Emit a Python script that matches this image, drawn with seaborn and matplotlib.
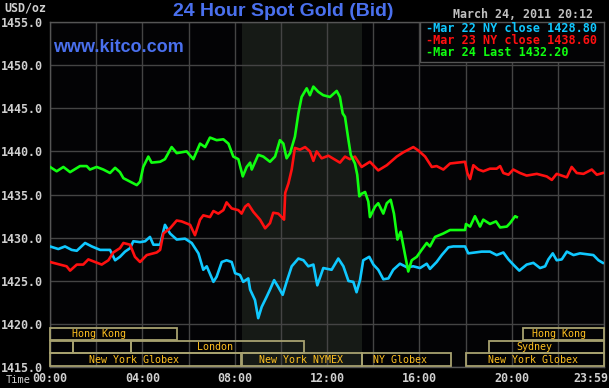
import matplotlib
matplotlib.use("Agg")
import matplotlib.pyplot as plt
from matplotlib.patches import Rectangle
import seaborn as sns
import pandas as pd

# ---------------- data (hours since 00:00, USD/oz) ----------------
blue_h = [0.00, 0.36, 0.65, 0.94, 1.16, 1.52, 1.81, 2.17, 2.60, 2.82, 3.03, 3.25, 3.47, 3.61, 3.90,
          4.12, 4.33, 4.48, 4.77, 4.98, 5.20, 5.49, 5.85, 6.14, 6.43, 6.64, 6.79, 7.08, 7.22, 7.44,
          7.65, 7.87, 8.02, 8.23, 8.37, 8.59, 8.67, 8.88, 9.02, 9.17, 9.39, 9.53, 9.71, 9.89, 10.08,
          10.25, 10.47, 10.76, 10.98, 11.19, 11.41, 11.58, 11.84, 12.20, 12.49, 12.71, 12.93, 13.14,
          13.28, 13.43, 13.57, 13.83, 14.01, 14.22, 14.44, 14.66, 14.87, 15.16, 15.45, 15.74, 16.03,
          16.32, 16.46, 16.75, 16.97, 17.26, 17.47, 17.98, 18.12, 18.41, 18.70, 19.06, 19.35, 19.64,
          19.86, 20.07, 20.33, 20.65, 20.94, 21.23, 21.45, 21.59, 21.78, 21.95, 22.17, 22.39, 22.68,
          22.96, 23.25, 23.54, 23.76, 23.95]
blue_v = [1429.0, 1428.7, 1429.0, 1428.6, 1428.5, 1429.4, 1429.0, 1428.6, 1428.6, 1427.4, 1427.8,
          1428.4, 1428.8, 1429.6, 1429.5, 1429.6, 1430.1, 1429.2, 1429.2, 1431.5, 1430.5, 1429.8,
          1429.9, 1429.4, 1428.2, 1426.3, 1426.7, 1424.9, 1425.5, 1427.2, 1427.4, 1427.2, 1425.9,
          1425.7, 1424.9, 1425.3, 1424.0, 1422.8, 1420.7, 1422.0, 1423.2, 1424.0, 1425.1, 1424.3,
          1423.4, 1424.9, 1426.7, 1427.6, 1427.4, 1426.7, 1426.9, 1424.5, 1426.5, 1426.3, 1427.6,
          1426.7, 1425.0, 1424.9, 1423.7, 1425.1, 1427.4, 1427.8, 1426.9, 1426.3, 1425.2, 1425.3,
          1426.3, 1427.0, 1426.6, 1426.7, 1426.5, 1427.0, 1426.4, 1427.2, 1428.0, 1428.9, 1429.0,
          1429.0, 1428.2, 1428.3, 1428.4, 1428.4, 1428.0, 1428.3, 1427.5, 1426.9, 1426.2, 1426.9,
          1427.1, 1426.5, 1426.7, 1427.5, 1428.2, 1427.4, 1427.5, 1428.4, 1428.0, 1428.2, 1428.1,
          1428.0, 1427.4, 1427.1]

red_h = [0.00, 0.43, 0.72, 0.87, 1.16, 1.44, 1.66, 1.95, 2.24, 2.53, 2.74, 3.03, 3.18, 3.47, 3.68,
         3.90, 4.19, 4.62, 4.77, 4.91, 5.20, 5.49, 5.70, 6.07, 6.28, 6.50, 6.64, 6.93, 7.08, 7.29,
         7.51, 7.65, 7.87, 8.16, 8.30, 8.45, 8.59, 8.81, 9.10, 9.32, 9.53, 9.67, 9.89, 10.04, 10.14,
         10.19, 10.33, 10.47, 10.61, 10.83, 11.05, 11.26, 11.41, 11.55, 11.77, 12.06, 12.56, 12.78,
         12.99, 13.21, 13.50, 13.86, 14.22, 14.59, 15.02, 15.31, 15.74, 15.96, 16.25, 16.54, 16.75,
         17.04, 17.33, 17.98, 18.08, 18.20, 18.34, 18.56, 18.77, 19.06, 19.35, 19.50, 19.64, 19.86,
         20.07, 20.36, 20.65, 21.09, 21.52, 21.74, 21.95, 22.17, 22.39, 22.60, 22.82, 23.11, 23.47,
         23.69, 23.95]
red_v = [1427.2, 1426.9, 1426.7, 1426.2, 1426.9, 1426.9, 1427.5, 1427.2, 1426.9, 1427.4, 1428.3,
         1428.8, 1429.4, 1429.2, 1427.8, 1427.2, 1428.0, 1428.3, 1428.6, 1430.5, 1431.1, 1432.0,
         1431.9, 1431.5, 1430.3, 1432.1, 1432.6, 1432.4, 1433.1, 1432.8, 1433.2, 1434.1, 1433.4,
         1433.2, 1432.8, 1433.6, 1433.9, 1433.0, 1432.1, 1431.1, 1431.7, 1432.9, 1432.8, 1432.4,
         1432.1, 1435.2, 1436.3, 1437.9, 1440.4, 1440.2, 1440.5, 1440.0, 1438.9, 1440.0, 1439.2,
         1439.5, 1438.7, 1439.4, 1439.1, 1439.4, 1438.2, 1438.8, 1437.8, 1438.4, 1439.4, 1439.9,
         1440.5, 1440.1, 1439.4, 1438.2, 1438.3, 1437.9, 1438.6, 1438.8, 1437.5, 1436.8, 1438.4,
         1437.9, 1437.7, 1438.0, 1438.0, 1438.3, 1437.5, 1437.3, 1437.9, 1437.5, 1437.2, 1437.4,
         1437.1, 1436.7, 1437.4, 1437.2, 1437.0, 1438.2, 1437.5, 1437.4, 1437.9, 1437.3, 1437.5]

green_h = [0.00, 0.29, 0.58, 0.87, 1.30, 1.59, 1.73, 2.02, 2.31, 2.60, 2.82, 3.03, 3.18, 3.47, 3.76,
           3.90, 4.04, 4.26, 4.40, 4.77, 4.98, 5.27, 5.49, 5.92, 6.21, 6.50, 6.72, 6.93, 7.22, 7.51,
           7.73, 7.94, 8.16, 8.35, 8.52, 8.67, 8.74, 9.02, 9.24, 9.53, 9.75, 9.96, 10.11, 10.25,
           10.40, 10.61, 10.76, 10.90, 11.12, 11.26, 11.41, 11.62, 11.84, 12.13, 12.42, 12.56, 12.68,
           12.78, 12.93, 13.03, 13.21, 13.31, 13.40, 13.50, 13.65, 13.79, 13.86, 14.08, 14.22, 14.44,
           14.59, 14.76, 14.90, 15.05, 15.19, 15.34, 15.52, 15.67, 15.89, 16.10, 16.32, 16.46, 16.68,
           17.04, 17.33, 17.98, 18.02, 18.20, 18.41, 18.63, 18.77, 19.06, 19.32, 19.50, 19.79, 19.93,
           20.15, 20.22]
green_v = [1438.2, 1437.7, 1438.2, 1437.6, 1438.3, 1438.3, 1437.9, 1438.2, 1437.9, 1437.5, 1438.1,
           1437.6, 1436.9, 1436.5, 1436.1, 1436.5, 1438.2, 1439.4, 1438.7, 1438.8, 1439.1, 1440.5,
           1439.8, 1440.0, 1439.1, 1440.9, 1440.5, 1441.6, 1441.3, 1441.4, 1440.9, 1439.4, 1439.1,
           1437.1, 1438.2, 1438.7, 1437.9, 1439.6, 1439.4, 1438.8, 1439.4, 1441.3, 1440.9, 1439.2,
           1439.8, 1441.7, 1444.4, 1446.3, 1447.3, 1446.5, 1447.5, 1446.9, 1446.5, 1446.3, 1447.0,
           1446.3, 1444.4, 1444.0, 1441.3, 1439.6, 1438.6, 1437.3, 1434.8, 1435.1, 1435.3, 1434.2,
           1432.4, 1433.6, 1434.0, 1432.8, 1434.0, 1434.4, 1432.8, 1429.8, 1430.7, 1428.6, 1426.1,
           1427.4, 1427.8, 1428.6, 1429.4, 1429.0, 1430.1, 1430.5, 1430.9, 1430.9, 1431.6, 1431.3,
           1432.5, 1431.3, 1432.1, 1431.6, 1431.9, 1431.2, 1431.3, 1431.7, 1432.5, 1432.4]

series_names = ["Mar 22 NY close 1428.80", "Mar 23 NY close 1438.60", "Mar 24 Last 1432.20"]
series_colors = ["#10c8ff", "#ff1010", "#10ff10"]

y_ticks = [1415, 1420, 1425, 1430, 1435, 1440, 1445, 1450, 1455]
x_tick_hours = [0, 4, 8, 12, 16, 20]
x_tick_labels = ["00:00", "04:00", "08:00", "12:00", "16:00", "20:00"]

nymex_span = (8.33, 13.5)

# session bands: (row, start_h, end_h)
band_boxes = [(0, 0.0, 5.5), (0, 20.5, 24.0),
              (1, 0.0, 1.0), (1, 1.0, 3.5), (1, 3.5, 11.0), (1, 19.0, 24.0),
              (2, 0.0, 8.27), (2, 8.33, 13.5), (2, 13.5, 17.37), (2, 18.0, 24.0)]
band_labels = [(0, 2.14, "Hong Kong"), (0, 22.03, "Hong Kong"),
               (1, 7.15, "London"), (1, 20.97, "Sydney"),
               (2, 3.64, "New York Globex"), (2, 10.87, "New York NYMEX"),
               (2, 15.16, "NY Globex"), (2, 20.92, "New York Globex")]

# ---------------- figure ----------------
W, H = 609, 388
fig = plt.figure(figsize=(W / 100, H / 100), dpi=100, facecolor="#000000")
ax_l, ax_r, ax_t, ax_b = 50, 604, 21.8, 367.4
ax = fig.add_axes([ax_l / W, 1 - ax_b / H, (ax_r - ax_l) / W, (ax_b - ax_t) / H])
ax.set_facecolor("#030305")

frames = []
for name, hs, vs in zip(series_names, [blue_h, red_h, green_h], [blue_v, red_v, green_v]):
    frames.append(pd.DataFrame({"hour": hs, "price": vs, "series": name}))
df = pd.concat(frames, ignore_index=True)

ax.axvspan(nymex_span[0], nymex_span[1], color="#161a16", zorder=0, lw=0)

sns.lineplot(data=df, x="hour", y="price", hue="series", hue_order=series_names,
             palette=series_colors, linewidth=1.9, legend=False, ax=ax, zorder=3,
             estimator=None, sort=True)

ax.set_xlim(0, 24)
ax.set_ylim(1415, 1455)
ax.set_xticks(list(range(0, 25, 2)))
ax.set_xticklabels([""] * 13)
ax.set_yticks(y_ticks)
ax.set_yticklabels([f"{v:.1f}" for v in y_ticks])
ax.grid(True, color="#444444", linewidth=1.0, zorder=1)
ax.set_axisbelow(True)
ax.tick_params(length=0, colors="#d0d0d0", pad=5)
mono = "DejaVu Sans Mono"
for lab in ax.get_yticklabels():
    lab.set_family(mono); lab.set_fontsize(8.4); lab.set_weight("bold"); lab.set_color("#d0d0d0")
for s in ax.spines.values():
    s.set_color("#555555"); s.set_linewidth(1.0)
ax.set_xlabel(""); ax.set_ylabel("")

# x tick labels as text (last one right aligned at figure edge)
xt = ax.get_xaxis_transform()
for h, lab in zip(x_tick_hours, x_tick_labels):
    ax.text(h, -0.031, lab, transform=xt, ha="center", va="center", family=mono,
            fontsize=8.4, weight="bold", color="#d0d0d0", clip_on=False)
fig.text(608 / W, 1 - 378 / H, "23:59", ha="right", va="center", family=mono,
         fontsize=8.4, weight="bold", color="#d0d0d0")
fig.text(6 / W, 1 - 380 / H, "Time", ha="left", va="center", family=mono,
         fontsize=7.5, color="#d0d0d0")
fig.text(4 / W, 1 - 8 / H, "USD/oz", ha="left", va="center", family=mono,
         fontsize=8.4, weight="bold", color="#d0d0d0")

# titles
fig.text(283 / W, 1 - 11 / H, "24 Hour Spot Gold (Bid)", ha="center", va="center",
         family="Liberation Sans", weight="bold", fontsize=14, color="#4a70ee")
fig.text(53 / W, 1 - 48 / H, "www.kitco.com", ha="left", va="center",
         family="Liberation Sans", weight="bold", fontsize=13, color="#4a70ee")
fig.text(593 / W, 1 - 14 / H, "March 24, 2011 20:12", ha="right", va="center",
         family=mono, fontsize=8.4, weight="bold", color="#c0c0c0")

# legend box
ax.add_patch(Rectangle((0.668, 0.884), 0.332, 0.116, transform=ax.transAxes,
                       facecolor="#030305", edgecolor="#555555", lw=1.0, zorder=5))
for i, (name, col) in enumerate(zip(series_names, series_colors)):
    ypx = 29 + 12 * i
    ax.text(0.679, (ax_b - ypx) / (ax_b - ax_t), "-" + name, transform=ax.transAxes,
            ha="left", va="center", family=mono, fontsize=8.5, weight="bold",
            color=col, zorder=6)

# session bands
row_px = [(328, 340), (340.5, 353.3), (353.3, 366)]
band_edge = "#a8a270"
for row, h0, h1 in band_boxes:
    top, bot = row_px[row]
    y0 = (ax_b - bot) / (ax_b - ax_t)
    y1 = (ax_b - top) / (ax_b - ax_t)
    ax.add_patch(Rectangle((h0, y0), h1 - h0, y1 - y0, transform=xt, facecolor="none",
                           edgecolor=band_edge, lw=1.3, zorder=4, clip_on=False))
for row, hc, lab in band_labels:
    top, bot = row_px[row]
    yc = (ax_b - (top + bot) / 2) / (ax_b - ax_t)
    ax.text(hc, yc, lab, transform=xt, ha="center", va="center", family=mono,
            fontsize=7.2, color="#ffc020", zorder=6)

fig.savefig("out.png", dpi=100, facecolor="#000000")
